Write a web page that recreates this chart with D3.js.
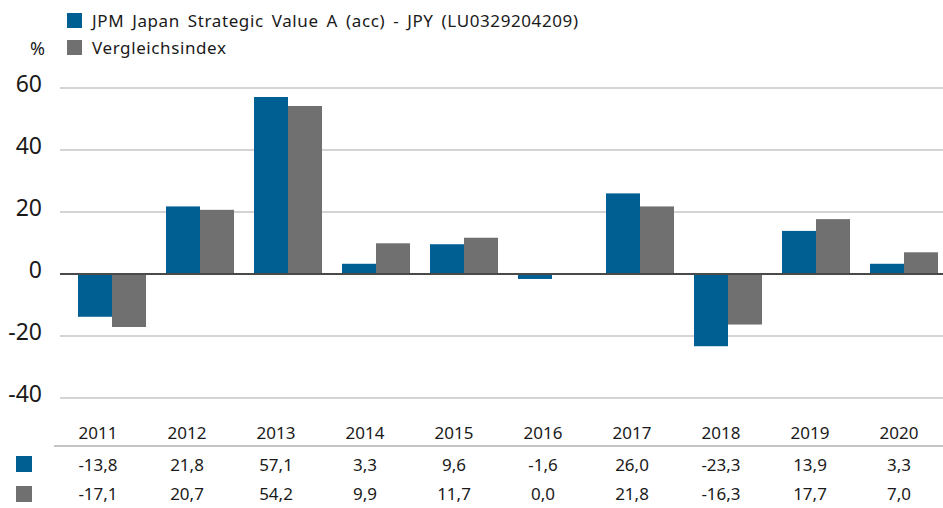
<!DOCTYPE html>
<html><head><meta charset="utf-8">
<script src="https://cdn.jsdelivr.net/npm/d3@7"></script>
<style>body{margin:0;background:#fff}svg{display:block}text{font-family:"Noto Sans",sans-serif;fill:#1a1a1a}</style>
</head><body><svg id="c" width="943" height="508"></svg>
<script>
const years = ["2011","2012","2013","2014","2015","2016","2017","2018","2019","2020"];
const fundValues = [-13.8,21.8,57.1,3.3,9.6,-1.6,26.0,-23.3,13.9,3.3];
const indexValues = [-17.1,20.7,54.2,9.9,11.7,0.0,21.8,-16.3,17.7,7.0];
const seriesNames = ["JPM Japan Strategic Value A (acc) - JPY (LU0329204209)","Vergleichsindex"];
const yTicks = [60,40,20,0,-20,-40];
const colors = ["#005f92","#707071"];

const svg = d3.select("#c");
const y = d3.scaleLinear().domain([-40,60]).range([398,88]);
const x = d3.scaleBand().domain(years).range([68,948]).paddingInner(0.227).paddingOuter(0.1135);
const xs = d3.scaleBand().domain([0,1]).range([0,x.bandwidth()]);
const xt = d3.scaleBand().domain(years).range([53.5,943.5]);
const fmt = v => v.toFixed(1).replace(".",",");

// gridlines
svg.append("g").selectAll("line").data(yTicks.filter(d=>d!==0)).join("line")
  .attr("x1",60).attr("x2",943).attr("y1",d=>y(d)).attr("y2",d=>y(d))
  .attr("stroke","#c6c6c6").attr("stroke-width",1.5);
// y labels
svg.append("g").selectAll("text").data(yTicks).join("text")
  .attr("x",42).attr("y",d=>y(d)+4).attr("text-anchor","end")
  .style("font-size","23px").text(d=>d);
svg.append("text").attr("x",30).attr("y",55).style("font-size","18px").text("%");

// bars
const series = [fundValues,indexValues];
series.forEach((vals,si)=>{
  svg.append("g").selectAll("rect").data(vals).join("rect")
    .attr("x",(d,i)=>x(years[i])+xs(si)).attr("width",xs.bandwidth())
    .attr("y",d=>y(Math.max(0,d))).attr("height",d=>Math.abs(y(d)-y(0)))
    .attr("fill",colors[si]);
});
// zero line
svg.append("line").attr("x1",60).attr("x2",943).attr("y1",y(0)).attr("y2",y(0))
  .attr("stroke","#4a4a4a").attr("stroke-width",2);

// legend
seriesNames.forEach((n,i)=>{
  svg.append("rect").attr("x",67).attr("y",13+i*27).attr("width",15).attr("height",15).attr("fill",colors[i]);
  svg.append("text").attr("x",92).attr("y",27+i*27).style("font-size","17px")
    .style("letter-spacing","0.6px").style("word-spacing","3px").text(n);
});

// table
svg.append("g").selectAll("text").data(years).join("text")
  .attr("x",d=>xt(d)+xt.bandwidth()/2).attr("y",439).attr("text-anchor","middle")
  .style("font-size","17px").text(d=>d);
svg.append("line").attr("x1",54).attr("x2",943).attr("y1",446).attr("y2",446)
  .attr("stroke","#8a8a8a").attr("stroke-width",1);
series.forEach((vals,si)=>{
  svg.append("rect").attr("x",16).attr("y",456+si*30).attr("width",16).attr("height",16).attr("fill",colors[si]);
  svg.append("g").selectAll("text").data(vals).join("text")
    .attr("x",(d,i)=>xt(years[i])+xt.bandwidth()/2).attr("y",471+si*29).attr("text-anchor","middle")
    .style("font-size","17px").text(d=>fmt(d));
});
</script></body></html>
